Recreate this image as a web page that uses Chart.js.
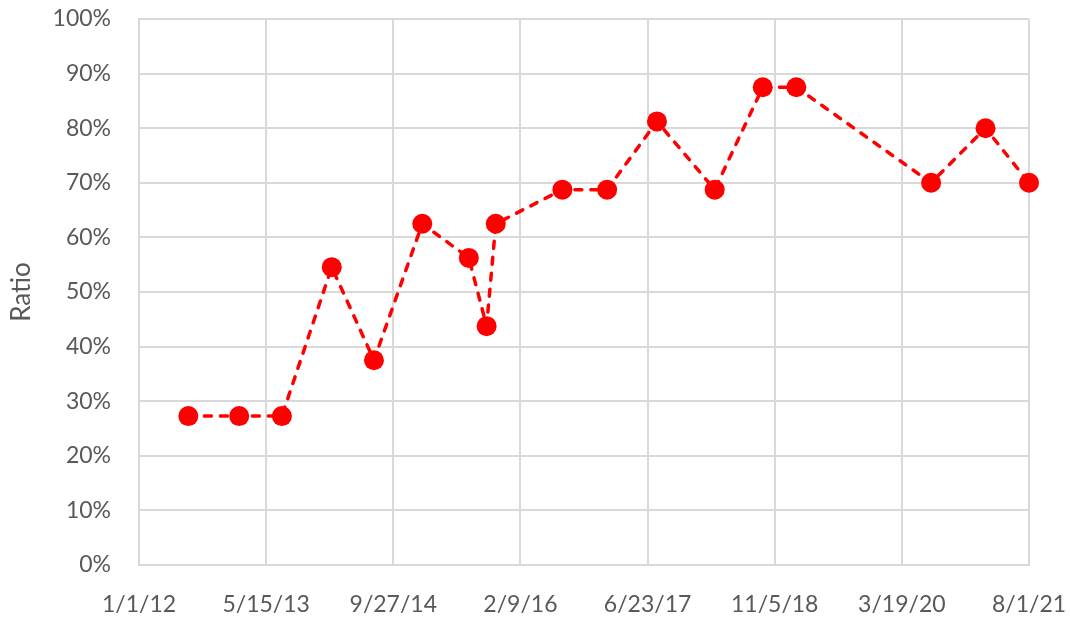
<!DOCTYPE html>
<html>
<head>
<meta charset="utf-8">
<script src="https://cdn.jsdelivr.net/npm/chart.js@4"></script>
<style>
  html, body { margin: 0; padding: 0; background: #fff; }
  #wrap { width: 1070px; height: 618px; }
</style>
</head>
<body>
<div id="wrap"><canvas id="chart"></canvas></div>
<script>
const dates = ['2012-07-13','2013-01-29','2013-07-16','2014-01-28','2014-07-13','2015-01-19',
  '2015-07-21','2015-09-29','2015-11-04','2016-07-23','2017-01-15','2017-07-30',
  '2018-03-14','2018-09-19','2019-01-29','2020-07-12','2021-02-11','2021-08-01']
const ratio = [27.27, 27.27, 27.27, 54.55, 37.5, 62.5,
  56.25, 43.75, 62.5, 68.75, 68.75, 81.25,
  68.75, 87.5, 87.5, 70, 80, 70]
const xStart = '2012-01-01'
const xEnd = '2021-08-01'
const xStepDays = 500
const yTicks = [0,10,20,30,40,50,60,70,80,90,100]

const DAY = 86400000
function toMs(s){
  let p = s.split('-')
  return Date.UTC(+p[0], +p[1]-1, +p[2])
}
function fmtDate(ms){
  let d = new Date(ms)
  return (d.getUTCMonth()+1) + '/' + d.getUTCDate() + '/' + String(d.getUTCFullYear()).slice(2)
}

const points = dates.map((d, i) => ({x: toMs(d), y: ratio[i]}))
const font = {family: 'Lato, "Open Sans", sans-serif', size: 23}
const grey = '#d9d9d9'
const textCol = '#595959'

// pin the plot area to where it sits in the reference
const pinArea = {
  id: 'pinArea',
  afterLayout(chart){
    const a = chart.chartArea
    a.left = 139; a.right = 1029; a.top = 19; a.bottom = 565
    a.width = a.right - a.left; a.height = a.bottom - a.top
    const x = chart.scales.x, y = chart.scales.y
    x.left = 139; x.right = 1029; x.width = 890; x.top = 565; x.bottom = 618; x.height = 53
    y.top = 19; y.bottom = 565; y.height = 546; y.left = 0; y.right = 139; y.width = 139
    x.configure(); y.configure()
  }
}

new Chart(document.getElementById('chart'), {
  type: 'scatter',
  data: {
    datasets: [{
      data: points,
      showLine: true,
      borderColor: '#ff0000',
      backgroundColor: '#ff0000',
      borderWidth: 3.5,
      borderDash: [7, 9],
      borderCapStyle: 'round',
      pointRadius: 10,
      pointHoverRadius: 10,
      pointBorderWidth: 0,
      clip: false
    }]
  },
  plugins: [pinArea],
  options: {
    responsive: true,
    maintainAspectRatio: false,
    animation: false,
    plugins: { legend: { display: false }, tooltip: { enabled: false } },
    scales: {
      x: {
        type: 'linear',
        min: toMs(xStart),
        max: toMs(xEnd),
        afterBuildTicks: (axis) => {
          let t = []
          for (let v = toMs(xStart); v <= toMs(xEnd) + 1; v += xStepDays * DAY) t.push({value: v})
          axis.ticks = t
        },
        grid: { color: grey, lineWidth: 2, drawTicks: false },
        border: { color: grey, width: 2 },
        ticks: {
          font: font, color: textCol, padding: 26, maxRotation: 0, autoSkip: false,
          callback: (v) => fmtDate(v)
        }
      },
      y: {
        min: 0,
        max: 100,
        afterBuildTicks: (axis) => { axis.ticks = yTicks.map(v => ({value: v})) },
        grid: { color: grey, lineWidth: 2, drawTicks: false },
        border: { color: grey, width: 2 },
        ticks: { font: font, color: textCol, padding: 28, callback: (v) => v + '%' },
        title: { display: true, text: 'Ratio', font: {family: font.family, size: 26}, color: textCol, padding: {top: 6, bottom: 0} }
      }
    }
  }
})
</script>
</body>
</html>
